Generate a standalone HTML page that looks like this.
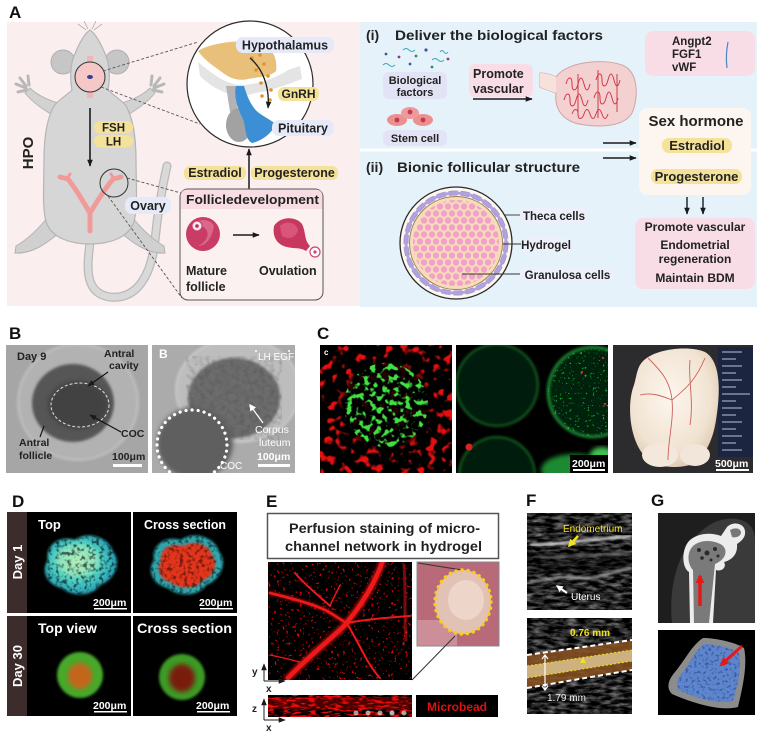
<!DOCTYPE html>
<html><head><meta charset="utf-8">
<style>
html,body{margin:0;padding:0;background:#fff;}
svg{display:block;}
text{font-family:"Liberation Sans",Arial,sans-serif;}
.b{font-weight:bold;}
</style></head><body>
<svg width="761" height="733" viewBox="0 0 761 733" xmlns="http://www.w3.org/2000/svg">
<defs>
 <marker id="ah" viewBox="0 0 10 10" refX="9" refY="5" markerWidth="7" markerHeight="7" orient="auto" markerUnits="userSpaceOnUse"><path d="M0,1 L10,5 L0,9 Z" fill="#1a1a1a"/></marker>
 <marker id="ahr" viewBox="0 0 10 10" refX="8" refY="5" markerWidth="9" markerHeight="9" orient="auto" markerUnits="userSpaceOnUse"><path d="M0,0 L10,5 L0,10 Z" fill="#e41818"/></marker>
 <marker id="ahw" viewBox="0 0 10 10" refX="8" refY="5" markerWidth="7" markerHeight="7" orient="auto" markerUnits="userSpaceOnUse"><path d="M0,0 L10,5 L0,10 Z" fill="#fff"/></marker>
 <marker id="ahy" viewBox="0 0 10 10" refX="8" refY="5" markerWidth="8" markerHeight="8" orient="auto" markerUnits="userSpaceOnUse"><path d="M0,0 L10,5 L0,10 Z" fill="#f2e21a"/></marker>
 <pattern id="pd" width="8" height="14" patternUnits="userSpaceOnUse"><circle cx="4" cy="3.5" r="3.2" fill="#f3a1c9"/><circle cx="0" cy="10.5" r="3.2" fill="#f3a1c9"/><circle cx="8" cy="10.5" r="3.2" fill="#f3a1c9"/></pattern>
 <filter id="fRed" x="0" y="0" width="1" height="1" color-interpolation-filters="sRGB">
  <feTurbulence type="fractalNoise" baseFrequency="0.11" numOctaves="2" seed="2"/>
  <feColorMatrix values="0 0 0 0 0.9  0 0 0 0 0.06  0 0 0 0 0.06  7 0 0 0 -3.85"/>
 </filter>
 <filter id="fRedE" x="0" y="0" width="1" height="1" color-interpolation-filters="sRGB">
  <feTurbulence type="fractalNoise" baseFrequency="0.35" numOctaves="2" seed="9"/>
  <feColorMatrix values="0 0 0 0 0.85  0 0 0 0 0.03  0 0 0 0 0.03  10 0 0 0 -6.4"/>
 </filter>
 <filter id="fRedS" x="0" y="0" width="1" height="1" color-interpolation-filters="sRGB">
  <feTurbulence type="fractalNoise" baseFrequency="0.12 0.5" numOctaves="2" seed="4"/>
  <feColorMatrix values="0 0 0 0 0.92  0 0 0 0 0.04  0 0 0 0 0.04  6 0 0 0 -2.9"/>
 </filter>
 <filter id="fGrn" x="0" y="0" width="1" height="1" color-interpolation-filters="sRGB">
  <feTurbulence type="fractalNoise" baseFrequency="0.17" numOctaves="2" seed="5"/>
  <feColorMatrix values="0 0 0 0 0.25  0 0 0 0 0.88  0 0 0 0 0.25  7 0 0 0 -3.55"/>
 </filter>
 <filter id="fGrnF" x="0" y="0" width="1" height="1" color-interpolation-filters="sRGB">
  <feTurbulence type="fractalNoise" baseFrequency="0.4" numOctaves="2" seed="11"/>
  <feColorMatrix values="0 0 0 0 0.1  0 0 0 0 0.7  0 0 0 0 0.2  10 0 0 0 -6.6"/>
 </filter>
 <filter id="fUS" x="0" y="0" width="1" height="1" color-interpolation-filters="sRGB">
  <feTurbulence type="fractalNoise" baseFrequency="0.09 0.3" numOctaves="3" seed="7"/>
  <feColorMatrix values="1.4 0 0 0 -0.5  1.4 0 0 0 -0.5  1.4 0 0 0 -0.5  0 0 0 0 1"/>
 </filter>
 <filter id="fUS2" x="0" y="0" width="1" height="1" color-interpolation-filters="sRGB">
  <feTurbulence type="fractalNoise" baseFrequency="0.09 0.3" numOctaves="3" seed="17"/>
  <feColorMatrix values="1.4 0 0 0 -0.5  1.4 0 0 0 -0.5  1.4 0 0 0 -0.5  0 0 0 0 1"/>
 </filter>
 <filter id="fGray" x="0" y="0" width="1" height="1" color-interpolation-filters="sRGB">
  <feTurbulence type="fractalNoise" baseFrequency="0.2" numOctaves="2" seed="3"/>
  <feColorMatrix values="0 0 0 0 0.2  0 0 0 0 0.2  0 0 0 0 0.2  2.5 0 0 0 -1.0"/>
 </filter>
 <filter id="fBlue" x="0" y="0" width="1" height="1" color-interpolation-filters="sRGB">
  <feTurbulence type="fractalNoise" baseFrequency="0.35" numOctaves="2" seed="8"/>
  <feColorMatrix values="0 0 0 0 0.15  0 0 0 0 0.25  0 0 0 0 0.55  5 0 0 0 -2.6"/>
 </filter>
 <filter id="fTex" x="0" y="0" width="1" height="1" color-interpolation-filters="sRGB">
  <feTurbulence type="fractalNoise" baseFrequency="0.25" numOctaves="2" seed="13"/>
  <feColorMatrix values="0 0 0 0 0  0 0 0 0 0  0 0 0 0 0  4 0 0 0 -1.9"/>
 </filter>
 <filter id="bl1"><feGaussianBlur stdDeviation="1.2"/></filter>
 <filter id="bl2"><feGaussianBlur stdDeviation="2.5"/></filter>
 <filter id="bl4"><feGaussianBlur stdDeviation="4"/></filter>
 <radialGradient id="gCy" cx="0.45" cy="0.45" r="0.6"><stop offset="0" stop-color="#a8f0b0"/><stop offset="0.55" stop-color="#4ad0c4"/><stop offset="1" stop-color="#1e90b0"/></radialGradient>
 <radialGradient id="gOrg" cx="0.45" cy="0.4" r="0.65"><stop offset="0" stop-color="#fdf6ee"/><stop offset="0.7" stop-color="#f1e3d2"/><stop offset="1" stop-color="#dcc7b0"/></radialGradient>
 <clipPath id="cpC1"><circle cx="386" cy="405" r="42"/></clipPath>
 <clipPath id="cpC2"><circle cx="593" cy="392" r="45"/></clipPath>
 <clipPath id="cpD1"><path d="M48,560 C45,545 60,535 75,540 C88,530 110,538 113,552 C122,562 115,580 100,585 C92,598 70,596 62,588 C48,585 40,572 48,560 Z"/></clipPath>
 <clipPath id="cpD2"><path d="M154,560 C151,545 166,535 181,540 C194,530 216,538 219,552 C228,562 221,580 206,585 C198,598 176,596 168,588 C154,585 146,572 154,560 Z"/></clipPath>
 <clipPath id="cpG"><path d="M704,644 C716,644 732,648 739,653 C742,668 737,688 733,701 C718,705 693,697 679,690 C675,685 677,679 683,672 C691,662 696,650 704,644 Z"/></clipPath>
</defs>

<!-- ================= PANEL A ================= -->
<text x="9" y="18" class="b" font-size="17" fill="#111">A</text>
<rect x="7" y="22" width="353" height="284" fill="#fbeeee"/>
<rect x="360" y="22" width="397" height="285" fill="#e5f2fa"/>
<line x1="360" y1="150" x2="757" y2="150" stroke="#fff" stroke-width="3"/>

<!-- mouse -->
<path d="M90,242 C88,262 82,293 110,297 C140,300 152,270 155,240 C158,210 162,188 167,166" fill="none" stroke="#b9b9b9" stroke-width="9" stroke-linecap="round"/>
<path d="M90,242 C88,262 82,293 110,297 C140,300 152,270 155,240 C158,210 162,188 167,166" fill="none" stroke="#d9d9d9" stroke-width="6.5" stroke-linecap="round"/>
<circle cx="63" cy="62" r="12" fill="#c6c6c6" stroke="#b0b0b0"/>
<circle cx="117" cy="62" r="12" fill="#c6c6c6" stroke="#b0b0b0"/>
<path d="M58,103 C45,99 36,94 30,88 L25,93 C33,103 44,110 54,116 Z" fill="#d2d2d2" stroke="#b5b5b5"/>
<path d="M122,103 C135,99 144,94 150,88 L155,93 C147,103 136,110 126,116 Z" fill="#d2d2d2" stroke="#b5b5b5"/>
<path d="M20,78 l6,8 M16,84 l10,4 M18,92 l9,-2 M28,76 l1,9" stroke="#b8b8b8" stroke-width="3" stroke-linecap="round"/>
<path d="M160,78 l-6,8 M164,84 l-10,4 M162,92 l-9,-2 M152,76 l-1,9" stroke="#b8b8b8" stroke-width="3" stroke-linecap="round"/>
<path d="M52,212 C42,225 30,238 16,246 L15,253 C32,254 46,244 60,232 Z" fill="#d0d0d0" stroke="#b2b2b2"/>
<path d="M128,212 C138,225 150,238 164,246 L165,253 C148,254 134,244 120,232 Z" fill="#d0d0d0" stroke="#b2b2b2"/>
<path d="M90,30 C84,34 78,46 74,56 C70,66 70,80 72,90 C66,96 58,100 54,106 C46,120 44,140 44,160 C44,185 42,205 46,222 C52,238 70,244 90,244 C110,244 128,238 134,222 C138,205 136,185 136,160 C136,140 134,120 126,106 C122,100 114,96 108,90 C110,80 110,66 106,56 C102,46 96,34 90,30 Z" fill="#d6d6d6" stroke="#b4b4b4" stroke-width="1.2"/>
<path d="M86,30 l-8,-6 M88,29 l-4,-8 M94,30 l8,-6 M92,29 l4,-8" stroke="#999" stroke-width="0.6"/>
<rect x="87" y="56" width="6" height="42" fill="#f2b5b5"/>
<circle cx="90" cy="77" r="15" fill="#f5c7c7" stroke="#333" stroke-width="1"/>
<ellipse cx="90" cy="77" rx="3" ry="2" fill="#3a3a9a"/>
<!-- uterus -->
<path d="M60,177 L68,179 C76,189 84,203 90,213 L90,231 M121,177 L113,179 C105,189 96,203 90,213" fill="none" stroke="#f09a9a" stroke-width="5" stroke-linecap="round" stroke-linejoin="round"/>
<path d="M67,179 l3,-5 M114,179 l-3,-5" stroke="#f09a9a" stroke-width="3" stroke-linecap="round"/>
<circle cx="114" cy="183" r="14" fill="none" stroke="#333" stroke-width="1"/>
<!-- HPO arrow & labels -->
<line x1="90" y1="108" x2="90" y2="166" stroke="#1a1a1a" stroke-width="1.6" marker-end="url(#ah)"/>
<rect x="94" y="121" width="39" height="12.5" rx="6" fill="#f4e29a"/>
<text x="113.5" y="131.5" class="b" font-size="11.5" text-anchor="middle" fill="#222">FSH</text>
<rect x="94" y="135" width="39" height="12.5" rx="6" fill="#f4e29a"/>
<text x="113.5" y="145.5" class="b" font-size="11.5" text-anchor="middle" fill="#222">LH</text>
<text transform="translate(33,153) rotate(-90)" class="b" font-size="15" text-anchor="middle" fill="#222">HPO</text>
<rect x="125" y="197" width="46" height="17" rx="7" fill="#e5e9f8"/>
<text x="148" y="210" class="b" font-size="12.5" text-anchor="middle" fill="#222">Ovary</text>

<!-- dashed connectors -->
<g stroke="#555" stroke-width="0.9" stroke-dasharray="3,2" fill="none">
 <line x1="103" y1="71" x2="198" y2="42"/>
 <line x1="101" y1="87" x2="200" y2="124"/>
 <line x1="127" y1="178" x2="181" y2="193"/>
 <line x1="108" y1="196" x2="182" y2="298"/>
</g>

<!-- big circle -->
<circle cx="250" cy="84" r="63" fill="#fff" stroke="#2a2a2a" stroke-width="1.2"/>
<path d="M198,62 C215,76 228,86 245,85 C262,83 276,78 288,70 L300,66 L302,79 C286,85 270,91 256,93 L244,96 C228,96 212,88 200,76 Z" fill="#e4e4e4"/>
<path d="M226,86 L236,86 L238,112 L230,112 Z" fill="#b3b3b3"/>
<ellipse cx="239" cy="125" rx="13" ry="17" fill="#a2a2a2"/>
<path d="M236,86 C233,100 240,112 244,122 C246,132 246,140 252,143 C262,141 272,133 276,124 C268,118 258,114 254,108 C248,100 246,92 244,86 Z" fill="#3c8fd4"/>
<path d="M198,51 C210,43 240,39 262,43 C272,47 278,59 276,71 C270,77 258,77 248,79 C240,81 232,79 226,75 C215,67 205,61 198,51 Z" fill="#e8c07a"/>
<g fill="#e3932c">
 <circle cx="252" cy="58" r="1.8"/><circle cx="260" cy="55" r="1.8"/><circle cx="264" cy="64" r="1.8"/><circle cx="256" cy="70" r="1.8"/>
 <circle cx="268" cy="76" r="1.8"/><circle cx="261" cy="83" r="1.8"/><circle cx="271" cy="90" r="1.8"/><circle cx="262" cy="96" r="1.8"/><circle cx="270" cy="100" r="1.8"/>
</g>
<path d="M250,58 C262,68 270,86 268,108" fill="none" stroke="#1a1a1a" stroke-width="1.3" marker-end="url(#ah)"/>
<rect x="236" y="37" width="98" height="16" rx="7" fill="#e5e9f8"/>
<text x="285" y="49.5" class="b" font-size="12.5" text-anchor="middle" fill="#222">Hypothalamus</text>
<rect x="278" y="87" width="41" height="14" rx="6" fill="#f4e29a"/>
<text x="298.5" y="98" class="b" font-size="12" text-anchor="middle" fill="#222">GnRH</text>
<rect x="272" y="120" width="62" height="16" rx="7" fill="#e5e9f8"/>
<text x="303" y="132.5" class="b" font-size="12.5" text-anchor="middle" fill="#222">Pituitary</text>

<!-- estradiol/progesterone -->
<line x1="249" y1="189" x2="249" y2="149" stroke="#1a1a1a" stroke-width="1.5" marker-end="url(#ah)"/>
<rect x="184" y="166" width="62" height="14" rx="6" fill="#f4e29a"/>
<text x="215" y="177" class="b" font-size="12.5" text-anchor="middle" fill="#222">Estradiol</text>
<rect x="251" y="166" width="87" height="14" rx="6" fill="#f4e29a"/>
<text x="294.5" y="177" class="b" font-size="12.5" text-anchor="middle" fill="#222">Progesterone</text>

<!-- follicle development box -->
<rect x="180" y="189" width="143" height="111" rx="8" fill="#fcf1f1" stroke="#555" stroke-width="1"/>
<path d="M188,189.5 L315,189.5 Q322.5,189.5 322.5,197 L322.5,209 L180.5,209 L180.5,197 Q180.5,189.5 188,189.5 Z" fill="#f7dce3"/>
<text x="186" y="204" class="b" font-size="12.5" fill="#222" textLength="133" lengthAdjust="spacingAndGlyphs">Follicledevelopment</text>
<circle cx="203" cy="234" r="17" fill="#c93c66"/>
<path d="M192,226 C196,218 210,218 214,226 C212,238 206,246 198,246 C210,240 210,230 202,226 Z" fill="#e07a98" opacity="0.7"/>
<circle cx="197" cy="226" r="5" fill="#fbe6ee" stroke="#c93c66" stroke-width="1"/>
<circle cx="197" cy="226" r="1.8" fill="#b03060"/>
<line x1="233" y1="235" x2="259" y2="235" stroke="#1a1a1a" stroke-width="1.5" marker-end="url(#ah)"/>
<path d="M274,226 C280,216 296,216 302,224 C306,232 304,240 310,246 L306,251 C300,247 294,249 287,247 C278,245 272,238 274,226 Z" fill="#c8385e"/>
<path d="M280,226 C286,220 296,222 298,230 C296,238 288,240 282,236 Z" fill="#d9567a"/>
<circle cx="315" cy="252" r="5" fill="#fff" stroke="#d04070" stroke-width="1.2"/>
<circle cx="315" cy="252" r="1.6" fill="#d04070"/>
<text x="186" y="275" class="b" font-size="12.5" fill="#222">Mature</text>
<text x="186" y="291" class="b" font-size="12.5" fill="#222">follicle</text>
<text x="259" y="275" class="b" font-size="12.5" fill="#222">Ovulation</text>

<!-- ===== right (i) ===== -->
<text x="366" y="40" class="b" font-size="14" fill="#222">(i)</text>
<text x="395" y="40" class="b" font-size="14" fill="#222" textLength="208" lengthAdjust="spacingAndGlyphs">Deliver the biological factors</text>
<g>
 <circle cx="386" cy="54" r="1.4" fill="#3a5aa0"/><circle cx="399" cy="57" r="1.4" fill="#8a3a8a"/><circle cx="416" cy="56" r="1.4" fill="#2a8a6a"/><circle cx="426" cy="50" r="1.6" fill="#3a5aa0"/><circle cx="448" cy="59" r="1.4" fill="#8a3a8a"/>
 <circle cx="410" cy="64" r="1.4" fill="#3a5aa0"/><circle cx="432" cy="67" r="1.4" fill="#2a8a6a"/>
 <path d="M403,50 q3,-3 6,0 t6,0" fill="none" stroke="#3aa7c0" stroke-width="1"/>
 <path d="M432,60 q3,-3 6,0 t6,0" fill="none" stroke="#3aa7c0" stroke-width="1"/>
 <path d="M383,65 q3,-3 6,0 t6,0" fill="none" stroke="#3aa7c0" stroke-width="1"/>
 <path d="M440,52 q2,-3 4,0 t4,0" fill="none" stroke="#3aa7c0" stroke-width="1"/>
</g>
<rect x="383" y="72" width="64" height="27" rx="6" fill="#e3e3f6"/>
<text x="415" y="84" class="b" font-size="11" text-anchor="middle" fill="#222">Biological</text>
<text x="415" y="96" class="b" font-size="11" text-anchor="middle" fill="#222">factors</text>
<ellipse cx="397" cy="120" rx="10" ry="6" fill="#eb8f8f"/>
<ellipse cx="423" cy="120" rx="10" ry="6" fill="#eb8f8f"/>
<ellipse cx="410" cy="113" rx="9" ry="6" fill="#ee9a9a"/>
<circle cx="397" cy="120" r="2.4" fill="#c03a50"/><circle cx="423" cy="120" r="2.4" fill="#c03a50"/><circle cx="410" cy="112" r="2.4" fill="#c03a50"/>
<rect x="383" y="130" width="64" height="16" rx="6" fill="#e3e3f6"/>
<text x="415" y="142" class="b" font-size="11" text-anchor="middle" fill="#222">Stem cell</text>
<rect x="469" y="64" width="64" height="33" rx="6" fill="#f8dde6"/>
<text x="473" y="78" class="b" font-size="12.5" fill="#222">Promote</text>
<text x="473" y="93" class="b" font-size="12.5" fill="#222">vascular</text>
<line x1="473" y1="99" x2="532" y2="99" stroke="#1a1a1a" stroke-width="1.5" marker-end="url(#ah)"/>
<!-- organ -->
<path d="M540,73 C546,73 552,75 556,77 C566,62 602,58 622,65 C640,72 638,100 632,113 C624,127 600,127 585,125 C565,123 554,111 556,93 C550,91 544,89 540,87 Z" fill="#f3d1d1" stroke="#cfa5a5" stroke-width="1"/>
<path d="M540,73 C546,73 552,75 556,77 L556,93 C550,91 544,89 540,87 Z" fill="#f6e2da"/>
<g fill="none" stroke="#d23a4a" stroke-width="1">
 <path d="M566,84 c2,-8 6,-8 6,0 s4,8 6,0 s4,-8 6,0 s4,8 6,0"/>
 <path d="M596,80 c2,-8 6,-8 6,0 s4,8 6,0 s4,-8 6,0 s4,8 6,0"/>
 <path d="M564,100 c2,-8 6,-8 6,0 s4,8 6,0 s4,-8 6,0 s4,8 6,0"/>
 <path d="M594,98 c2,-8 6,-8 6,0 s4,8 6,0 s4,-8 6,0 s4,8 6,0"/>
 <path d="M572,114 c2,-6 6,-6 6,0 s4,6 6,0 s4,-6 6,0 s4,6 6,0 s4,-6 6,0 s4,6 6,0"/>
 <path d="M578,74 v42 M598,70 v48 M617,74 v38"/>
</g>
<rect x="645" y="31" width="110" height="45" rx="8" fill="#f8dde6"/>
<text x="672" y="45" class="b" font-size="11.5" fill="#222">Angpt2</text>
<text x="672" y="58" class="b" font-size="11.5" fill="#222">FGF1</text>
<text x="672" y="71" class="b" font-size="11.5" fill="#222">vWF</text>
<path d="M728,42 C726,52 726,60 727,68" fill="none" stroke="#4a86c0" stroke-width="1.2"/>

<!-- sex hormone -->
<rect x="639" y="108" width="112" height="87" rx="8" fill="#fdf5f0"/>
<text x="696" y="126" class="b" font-size="15" text-anchor="middle" fill="#222">Sex hormone</text>
<rect x="662" y="138" width="70" height="15" rx="7" fill="#f4e29a"/>
<text x="697" y="150" class="b" font-size="13" text-anchor="middle" fill="#222">Estradiol</text>
<rect x="651" y="169" width="91" height="15" rx="7" fill="#f4e29a"/>
<text x="696.5" y="181" class="b" font-size="13" text-anchor="middle" fill="#222">Progesterone</text>
<line x1="603" y1="143" x2="636" y2="143" stroke="#1a1a1a" stroke-width="1.4" marker-end="url(#ah)"/>
<line x1="603" y1="158" x2="636" y2="158" stroke="#1a1a1a" stroke-width="1.4" marker-end="url(#ah)"/>
<line x1="687" y1="197" x2="687" y2="214" stroke="#1a1a1a" stroke-width="1.4" marker-end="url(#ah)"/>
<line x1="703" y1="197" x2="703" y2="214" stroke="#1a1a1a" stroke-width="1.4" marker-end="url(#ah)"/>
<rect x="635" y="218" width="120" height="71" rx="8" fill="#f8dde6"/>
<text x="695" y="231" class="b" font-size="12" text-anchor="middle" fill="#222">Promote vascular</text>
<text x="695" y="249" class="b" font-size="12" text-anchor="middle" fill="#222">Endometrial</text>
<text x="695" y="263" class="b" font-size="12" text-anchor="middle" fill="#222">regeneration</text>
<text x="695" y="282" class="b" font-size="12" text-anchor="middle" fill="#222">Maintain BDM</text>

<!-- (ii) -->
<text x="366" y="172" class="b" font-size="14" fill="#222">(ii)</text>
<text x="397" y="172" class="b" font-size="14" fill="#222" textLength="183" lengthAdjust="spacingAndGlyphs">Bionic follicular structure</text>
<circle cx="456" cy="243" r="56" fill="#fdf8ee" stroke="#2a2a2a" stroke-width="1.3"/>
<circle cx="456" cy="243" r="50" fill="none" stroke="#a898d8" stroke-width="5" stroke-dasharray="9,3"/>
<circle cx="456" cy="243" r="50" fill="none" stroke="#b0a2dc" stroke-width="3"/>
<circle cx="456" cy="243" r="46.5" fill="#f6ddb9" stroke="#9b7a55" stroke-width="0.9"/>
<circle cx="456" cy="243" r="43" fill="url(#pd)"/>
<g stroke="#333" stroke-width="0.9">
 <line x1="505" y1="215" x2="520" y2="215"/>
 <line x1="503" y1="244" x2="522" y2="244"/>
 <line x1="462" y1="274" x2="520" y2="274"/>
</g>
<rect x="520" y="208" width="68" height="15" rx="6" fill="#edf0fa"/>
<text x="554" y="220" class="b" font-size="11.5" text-anchor="middle" fill="#222">Theca cells</text>
<rect x="521" y="237" width="50" height="15" rx="6" fill="#edf0fa"/>
<text x="546" y="249" class="b" font-size="11.5" text-anchor="middle" fill="#222">Hydrogel</text>
<rect x="520" y="267" width="95" height="15" rx="6" fill="#edf0fa"/>
<text x="567.5" y="279" class="b" font-size="11.5" text-anchor="middle" fill="#222">Granulosa cells</text>

<!-- ================= PANEL B ================= -->
<text x="9" y="339" class="b" font-size="17" fill="#111">B</text>
<svg x="6" y="345" width="142" height="128" viewBox="6 345 142 128">
 <rect x="6" y="345" width="142" height="128" fill="#a6a6a6"/>
 <ellipse cx="78" cy="402" rx="60" ry="58" fill="#b2b2b2" stroke="#c6c6c6" stroke-width="1.5" filter="url(#bl1)"/>
 <ellipse cx="73" cy="403" rx="41" ry="39" fill="#575757" filter="url(#bl1)"/>
 <ellipse cx="78" cy="405" rx="30" ry="24" fill="#424242" filter="url(#bl2)"/>
 <ellipse cx="80" cy="405" rx="29" ry="22" fill="none" stroke="#e0e0e0" stroke-width="1" stroke-dasharray="3,2"/>
 <text x="17" y="360" class="b" font-size="11" fill="#222">Day 9</text>
 <text x="104" y="357" class="b" font-size="10.5" fill="#222">Antral</text>
 <text x="109" y="369" class="b" font-size="10.5" fill="#222">cavity</text>
 <line x1="108" y1="372" x2="88" y2="386" stroke="#111" stroke-width="1.2" marker-end="url(#ah)"/>
 <text x="121" y="437" class="b" font-size="10.5" fill="#222">COC</text>
 <line x1="121" y1="432" x2="90" y2="415" stroke="#111" stroke-width="1.2" marker-end="url(#ah)"/>
 <text x="19" y="446" class="b" font-size="10.5" fill="#222">Antral</text>
 <text x="19" y="459" class="b" font-size="10.5" fill="#222">follicle</text>
 <line x1="40" y1="437" x2="44" y2="426" stroke="#111" stroke-width="1.1"/>
 <text x="112" y="460" class="b" font-size="10.5" fill="#222">100μm</text>
 <rect x="113" y="464" width="29" height="3" fill="#fff"/>
</svg>
<svg x="152" y="345" width="143" height="128" viewBox="152 345 143 128">
 <rect x="152" y="345" width="143" height="128" fill="#ababab"/>
 <ellipse cx="238" cy="390" rx="62" ry="52" fill="#bdbdbd" stroke="#cfcfcf" stroke-width="1.5" filter="url(#bl1)"/>
 <ellipse cx="234" cy="398" rx="46" ry="40" fill="#6c6c6c" filter="url(#bl1)"/>
 <rect x="186" y="356" width="96" height="84" fill="#000" opacity="0.2" filter="url(#fGray)"/>
 <ellipse cx="195" cy="443" rx="38" ry="36" fill="#5e5e5e" filter="url(#bl2)"/>
 <circle cx="192" cy="445" r="35" fill="none" stroke="#fff" stroke-width="3.2" stroke-dasharray="0.1,6" stroke-linecap="round"/>
 <text x="159" y="358" class="b" font-size="12" fill="#fff">B</text>
 <text x="258" y="360" font-size="10" fill="#fff">LH EGF</text>
 <circle cx="256" cy="351" r="1" fill="#fff"/><circle cx="289" cy="351" r="1" fill="#fff"/>
 <text x="255" y="433" font-size="10.5" fill="#fff">Corpus</text>
 <text x="259" y="446" font-size="10.5" fill="#fff">luteum</text>
 <line x1="263" y1="423" x2="250" y2="405" stroke="#fff" stroke-width="1.2" marker-end="url(#ahw)"/>
 <text x="220" y="469" font-size="10" fill="#fff">COC</text>
 <text x="257" y="460" class="b" font-size="10.5" fill="#fff">100μm</text>
 <rect x="258" y="464" width="32" height="3" fill="#fff"/>
</svg>

<!-- ================= PANEL C ================= -->
<text x="317" y="339" class="b" font-size="17" fill="#111">C</text>
<svg x="320" y="345" width="132" height="128" viewBox="320 345 132 128">
 <rect x="320" y="345" width="132" height="128" fill="#000"/>
 <rect x="320" y="345" width="132" height="128" filter="url(#fRed)"/>
 <circle cx="386" cy="405" r="44" fill="#000" opacity="0.85" filter="url(#bl2)"/>
 <g clip-path="url(#cpC1)">
  <rect x="340" y="360" width="92" height="92" filter="url(#fGrn)"/>
 </g>
 <text x="324" y="355" class="b" font-size="8" fill="#fff">c</text>
</svg>
<svg x="456" y="345" width="152" height="128" viewBox="456 345 152 128">
 <rect x="456" y="345" width="152" height="128" fill="#000"/>
 <circle cx="497" cy="385" r="41" fill="#031a08" stroke="#155a22" stroke-width="2" filter="url(#bl1)"/>
 <circle cx="593" cy="392" r="45" fill="#052008" stroke="#1c7a30" stroke-width="3" filter="url(#bl1)"/>
 <g clip-path="url(#cpC2)"><rect x="548" y="347" width="90" height="90" filter="url(#fGrnF)"/></g>
 <circle cx="497" cy="475" r="38" fill="#031a08" stroke="#155a22" stroke-width="2" filter="url(#bl1)"/>
 <ellipse cx="575" cy="470" rx="34" ry="16" fill="#1f8a30" filter="url(#bl2)"/>
 <ellipse cx="602" cy="455" rx="12" ry="8" fill="#40c050" filter="url(#bl2)"/>
 <circle cx="469" cy="447" r="3.5" fill="#e02020"/>
 <circle cx="582" cy="372" r="1.2" fill="#e02020"/><circle cx="605" cy="404" r="1.2" fill="#e02020"/><circle cx="603" cy="358" r="1.2" fill="#e02020"/>
 <rect x="570" y="455" width="38" height="18" fill="#000"/>
 <text x="572" y="467" class="b" font-size="10.5" fill="#fff">200μm</text>
 <rect x="573" y="469" width="32" height="2" fill="#fff"/>
</svg>
<svg x="613" y="345" width="140" height="128" viewBox="613 345 140 128">
 <rect x="613" y="345" width="140" height="128" fill="#2c2b2d"/>
 <rect x="718" y="347" width="35" height="110" fill="#1c2540"/>
 <g stroke="#b8c4e0" stroke-width="1">
  <line x1="722" y1="352" x2="742" y2="352"/><line x1="722" y1="359" x2="736" y2="359"/><line x1="722" y1="366" x2="742" y2="366"/><line x1="722" y1="373" x2="736" y2="373"/><line x1="722" y1="380" x2="742" y2="380"/><line x1="722" y1="387" x2="736" y2="387"/><line x1="722" y1="394" x2="750" y2="394"/><line x1="722" y1="401" x2="736" y2="401"/><line x1="722" y1="408" x2="742" y2="408"/><line x1="722" y1="415" x2="736" y2="415"/><line x1="722" y1="422" x2="742" y2="422"/><line x1="722" y1="429" x2="736" y2="429"/><line x1="722" y1="436" x2="742" y2="436"/><line x1="722" y1="443" x2="736" y2="443"/><line x1="722" y1="450" x2="742" y2="450"/>
 </g>
 <path d="M640,365 C650,348 690,345 705,352 C722,362 720,395 716,420 C713,440 705,458 690,465 C670,470 650,466 640,450 C628,430 628,400 634,385 C636,378 637,370 640,365 Z" fill="url(#gOrg)"/>
 <ellipse cx="660" cy="455" rx="18" ry="12" fill="#f4e8dc"/>
 <ellipse cx="695" cy="455" rx="15" ry="11" fill="#f2e6da"/>
 <g fill="none" stroke="#c8504a" stroke-width="0.9" opacity="0.9">
  <path d="M648,358 C660,370 670,380 672,400 C674,420 668,440 668,460"/>
  <path d="M672,400 C684,390 695,382 705,358"/>
  <path d="M640,395 C652,392 662,396 672,400"/>
  <path d="M690,360 C688,380 694,400 690,425"/>
 </g>
 <text x="715" y="467" class="b" font-size="10.5" fill="#fff">500μm</text>
 <rect x="716" y="469" width="33" height="2" fill="#fff"/>
</svg>

<!-- ================= PANEL D ================= -->
<text x="12" y="507" class="b" font-size="17" fill="#111">D</text>
<rect x="7" y="512" width="20" height="101" fill="#3d2c2c"/>
<rect x="7" y="616" width="20" height="100" fill="#3d2c2c"/>
<text transform="translate(22,562) rotate(-90)" class="b" font-size="13" text-anchor="middle" fill="#fff">Day 1</text>
<text transform="translate(22,666) rotate(-90)" class="b" font-size="13" text-anchor="middle" fill="#fff">Day 30</text>
<rect x="27" y="512" width="104" height="101" fill="#000"/>
<rect x="133" y="512" width="104" height="101" fill="#000"/>
<rect x="27" y="616" width="104" height="100" fill="#000"/>
<rect x="133" y="616" width="104" height="100" fill="#000"/>
<!-- D1 top -->
<path d="M48,560 C45,545 60,535 75,540 C88,530 110,538 113,552 C122,562 115,580 100,585 C92,598 70,596 62,588 C48,585 40,572 48,560 Z" fill="url(#gCy)" filter="url(#bl1)"/>
<ellipse cx="78" cy="560" rx="22" ry="16" fill="#b8f0c0" opacity="0.5" filter="url(#bl2)"/>
<g clip-path="url(#cpD1)"><rect x="40" y="530" width="85" height="70" filter="url(#fTex)" opacity="0.6"/></g>
<!-- D1 cross -->
<path d="M154,560 C151,545 166,535 181,540 C194,530 216,538 219,552 C228,562 221,580 206,585 C198,598 176,596 168,588 C154,585 146,572 154,560 Z" fill="#2fa8b0" filter="url(#bl1)"/>
<path d="M161,561 C159,549 171,542 183,546 C194,539 210,545 212,555 C219,563 214,577 203,580 C196,590 179,589 172,583 C161,580 155,570 161,561 Z" fill="#e3351e" filter="url(#bl1)"/>
<g clip-path="url(#cpD2)"><rect x="146" y="530" width="85" height="70" filter="url(#fTex)" opacity="0.5"/></g>
<!-- D30 -->
<circle cx="80" cy="675" r="23" fill="#46a82c" filter="url(#bl1)"/>
<ellipse cx="80" cy="676" rx="12" ry="13" fill="#c4651c" filter="url(#bl2)"/>
<circle cx="182" cy="677" r="23" fill="#3c9a26" filter="url(#bl1)"/>
<ellipse cx="182" cy="678" rx="13" ry="14" fill="#7a1e0e" filter="url(#bl2)"/>
<g class="b" font-size="13" fill="#fff">
 <text x="38" y="529">Top</text>
 <text x="144" y="529" textLength="82" lengthAdjust="spacingAndGlyphs">Cross section</text>
 <text x="38" y="633" font-size="14">Top view</text>
 <text x="137" y="633" font-size="14" textLength="95" lengthAdjust="spacingAndGlyphs">Cross section</text>
</g>
<g class="b" font-size="10.5" fill="#fff">
 <text x="93" y="606">200μm</text><rect x="94" y="608" width="33" height="1.5"/>
 <text x="199" y="606">200μm</text><rect x="200" y="608" width="33" height="1.5"/>
 <text x="93" y="709">200μm</text><rect x="94" y="711" width="33" height="1.5"/>
 <text x="196" y="709">200μm</text><rect x="197" y="711" width="33" height="1.5"/>
</g>

<!-- ================= PANEL E ================= -->
<text x="266" y="507" class="b" font-size="17" fill="#111">E</text>
<rect x="267.5" y="513.5" width="231" height="45" fill="#fff" stroke="#555" stroke-width="1.5"/>
<text x="289" y="533" class="b" font-size="13.5" fill="#222" textLength="191" lengthAdjust="spacingAndGlyphs">Perfusion staining of micro-</text>
<text x="285" y="551" class="b" font-size="13.5" fill="#222" textLength="197" lengthAdjust="spacingAndGlyphs">channel network in hydrogel</text>
<svg x="268" y="562" width="144" height="118" viewBox="268 562 144 118">
 <rect x="268" y="562" width="144" height="118" fill="#000"/>
 <rect x="268" y="562" width="144" height="118" filter="url(#fRedE)"/>
 <g fill="none" stroke="#b00c0c" stroke-linecap="round" filter="url(#bl1)" opacity="0.8">
  <path d="M383,560 C378,575 370,590 362,602 C356,612 350,618 345,625 C330,640 310,655 288,678" stroke-width="8"/>
  <path d="M270,593 C290,598 310,603 325,610 C335,615 340,620 347,623" stroke-width="4.5"/>
 </g>
 <g fill="none" stroke="#f01818" stroke-linecap="round">
  <path d="M383,560 C378,575 370,590 362,602 C356,612 350,618 345,625 C330,640 310,655 288,678" stroke-width="4.5"/>
  <path d="M270,593 C290,598 310,603 325,610 C335,615 340,620 347,623" stroke-width="2.5"/>
  <path d="M295,573 C305,585 318,595 330,606" stroke-width="2"/>
  <path d="M347,623 C362,620 380,618 410,616" stroke-width="2"/>
  <path d="M347,623 C355,638 362,650 367,660 C372,668 376,674 380,678" stroke-width="2"/>
  <path d="M330,606 C334,596 338,590 340,585" stroke-width="1.5"/>
  <path d="M270,655 C280,657 292,660 300,662" stroke-width="1.2"/>
  <path d="M404,565 C406,590 404,620 406,640" stroke-width="3" opacity="0.5"/>
 </g>
</svg>
<svg x="417" y="562" width="82" height="84" viewBox="417 562 82 84">
 <rect x="417" y="562" width="82" height="84" fill="#b86a78"/>
 <rect x="417" y="620" width="40" height="26" fill="#d8a8b0" opacity="0.6"/>
 <ellipse cx="463" cy="602" rx="28" ry="32" fill="#e3c2b6"/>
 <ellipse cx="466" cy="600" rx="18" ry="20" fill="#edd5ca"/>
 <line x1="418" y1="563" x2="462" y2="570" stroke="#333" stroke-width="1"/>
 <ellipse cx="463" cy="602" rx="28" ry="32" fill="none" stroke="#f5cf1a" stroke-width="3.5" stroke-dasharray="0.1,6" stroke-linecap="round"/>
</svg>
<rect x="417" y="562" width="82" height="84" fill="none" stroke="#888" stroke-width="1"/>
<line x1="455" y1="636" x2="412" y2="680" stroke="#333" stroke-width="1"/>
<g stroke="#222" stroke-width="1" fill="none">
 <line x1="264" y1="681" x2="264" y2="664" marker-end="url(#ah)"/>
 <line x1="264" y1="681" x2="285" y2="681" marker-end="url(#ah)"/>
 <line x1="264" y1="720" x2="264" y2="699" marker-end="url(#ah)"/>
 <line x1="264" y1="720" x2="285" y2="720" marker-end="url(#ah)"/>
</g>
<text x="252" y="675" class="b" font-size="10" fill="#222">y</text>
<text x="266" y="692" class="b" font-size="10" fill="#222">x</text>
<text x="252" y="712" class="b" font-size="10" fill="#222">z</text>
<text x="266" y="731" class="b" font-size="10" fill="#222">x</text>
<svg x="268" y="695" width="144" height="22" viewBox="268 695 144 22">
 <rect x="268" y="695" width="144" height="22" fill="#000"/>
 <rect x="268" y="697" width="144" height="12" fill="#700" opacity="0.6"/>
 <rect x="268" y="695" width="144" height="22" filter="url(#fRedS)"/>
 <g fill="#ddd" opacity="0.7"><circle cx="356" cy="713" r="2.5"/><circle cx="368" cy="713" r="2.5"/><circle cx="380" cy="713" r="2.5"/><circle cx="392" cy="713" r="2.5" fill="#fff"/><circle cx="404" cy="713" r="2.5"/></g>
</svg>
<rect x="416" y="695" width="82" height="22" fill="#000"/>
<text x="457" y="711" class="b" font-size="12" text-anchor="middle" fill="#e01010">Microbead</text>

<!-- ================= PANEL F ================= -->
<text x="526" y="506" class="b" font-size="17" fill="#111">F</text>
<svg x="527" y="513" width="105" height="97" viewBox="527 513 105 97">
 <rect x="527" y="513" width="105" height="97" filter="url(#fUS)"/>
 <rect x="527" y="513" width="105" height="97" fill="#000" opacity="0.3"/>
 <rect x="527" y="552" width="105" height="22" fill="#000" opacity="0.35"/>
 <path d="M530,545 C555,545 585,540 632,536" fill="none" stroke="#e8e8e8" stroke-width="2.5" filter="url(#bl1)"/>
 <path d="M530,582 C550,580 560,575 580,578 C600,580 615,570 632,568" fill="none" stroke="#bbb" stroke-width="2" filter="url(#bl1)"/>
 <path d="M540,558 C570,556 600,556 632,552" fill="none" stroke="#888" stroke-width="1.5" filter="url(#bl1)"/>
 <text x="563" y="532" font-size="10" fill="#f2e21a">Endometrium</text>
 <line x1="578" y1="536" x2="569" y2="546" stroke="#f2e21a" stroke-width="2.5" marker-end="url(#ahy)"/>
 <line x1="567" y1="593" x2="557" y2="586" stroke="#fff" stroke-width="2" marker-end="url(#ahw)"/>
 <text x="571" y="600" font-size="10" fill="#fff">Uterus</text>
</svg>
<svg x="527" y="618" width="105" height="96" viewBox="527 618 105 96">
 <rect x="527" y="618" width="105" height="96" filter="url(#fUS2)"/>
 <rect x="527" y="618" width="105" height="96" fill="#000" opacity="0.3"/>
 <path d="M527,655 L632,640 L632,670 L527,688 Z" fill="#8a5220" opacity="0.85"/>
 <path d="M527,666 L632,650 L632,661 L527,678 Z" fill="#d6bd8a" opacity="0.9"/>
 <path d="M527,666 L632,650 M527,678 L632,661" stroke="#f2e21a" stroke-width="1" stroke-dasharray="2,2"/>
 <path d="M527,655 L632,640 M527,688 L632,670" stroke="#fff" stroke-width="2" stroke-dasharray="5,3"/>
 <text x="570" y="636" class="b" font-size="10" fill="#f2e21a">0.76 mm</text>
 <path d="M583,657 l-3,6 l6,0 Z" fill="#f2e21a"/>
 <line x1="545" y1="656" x2="545" y2="689" stroke="#fff" stroke-width="1.2"/>
 <path d="M542,659 l3,-4 l3,4 M542,686 l3,4 l3,-4" fill="none" stroke="#fff" stroke-width="1.2"/>
 <text x="547" y="701" font-size="10" fill="#eee">1.79 mm</text>
</svg>

<!-- ================= PANEL G ================= -->
<text x="651" y="506" class="b" font-size="17" fill="#111">G</text>
<svg x="658" y="513" width="97" height="110" viewBox="658 513 97 110">
 <rect x="658" y="513" width="97" height="110" fill="#1e1e1e"/>
 <path d="M672,623 C668,580 680,540 715,522 C735,514 755,520 755,540 L755,623 Z" fill="#3a3a3a"/>
 <path d="M690,623 L689,572 C682,568 681,550 689,541 C697,533 711,532 721,536 L727,527 C733,521 744,523 745,531 C746,538 740,542 737,544 C738,554 732,560 724,562 C727,567 722,572 716,570 L713,623 Z" fill="#ececec"/>
 <path d="M694,623 L693,570 C688,565 686,553 693,546 C701,539 714,540 722,545 C729,551 725,560 715,564 L709,623 Z" fill="#7a7a7a"/>
 <path d="M730,530 C735,527 741,528 741,533 C740,537 735,538 732,537 Z" fill="#777"/>
 <g fill="#2a2a2a"><circle cx="699" cy="550" r="2"/><circle cx="707" cy="553" r="2.5"/><circle cx="715" cy="549" r="2"/><circle cx="702" cy="558" r="1.8"/><circle cx="711" cy="560" r="1.5"/><circle cx="718" cy="556" r="1.5"/></g>
 <line x1="700" y1="606" x2="700" y2="576" stroke="#e41818" stroke-width="3.5" marker-end="url(#ahr)"/>
</svg>
<svg x="658" y="630" width="97" height="85" viewBox="658 630 97 85">
 <rect x="658" y="630" width="97" height="85" fill="#000"/>
 <path d="M703,638 C715,638 735,642 744,648 C748,665 742,690 738,707 C720,712 690,702 672,694 C666,688 668,680 675,672 C685,660 692,645 703,638 Z" fill="#8c8c8c"/>
 <path d="M704,644 C716,644 732,648 739,653 C742,668 737,688 733,701 C718,705 693,697 679,690 C675,685 677,679 683,672 C691,662 696,650 704,644 Z" fill="#5d86cc"/>
 <g clip-path="url(#cpG)"><rect x="675" y="640" width="70" height="66" filter="url(#fBlue)" opacity="0.6"/></g>
 <line x1="742" y1="646" x2="721" y2="665" stroke="#e41818" stroke-width="3" marker-end="url(#ahr)"/>
</svg>
</svg>
</body></html>
